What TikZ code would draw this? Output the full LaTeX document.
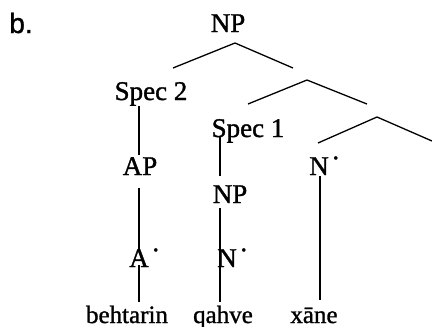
\documentclass[tikz,border=0pt]{standalone}
\usepackage{fontspec}
\setmainfont[AutoFakeBold=1.2]{Liberation Serif}
\newfontfamily\labfont[AutoFakeBold=1.2]{Liberation Sans}
\newcommand{\bardot}{\rlap{\hspace{2.5pt}\raisebox{0.3em}{·}}}
\begin{document}
\begin{tikzpicture}[x=1pt,y=-1pt,
  lab/.style={font=\fontsize{27}{30}\selectfont\bfseries, inner sep=0pt, anchor=base},
  word/.style={font=\fontsize{25}{28}\selectfont\bfseries, inner sep=0pt, anchor=base},
  br/.style={line width=1.3pt}]
\useasboundingbox (0,0) rectangle (432,327);
% labels
\node[font=\labfont\fontsize{28}{30}\selectfont\bfseries, inner sep=0pt, anchor=base] (lbl) at (21,33) {b.};
\node[lab] (np0) at (228,32) {NP};
\node[lab] (spec2) at (151,100) {Spec 2};
\node[lab] (spec1) at (248,137) {Spec 1};
\node[lab] (ap) at (140,175) {AP};
\node[lab] (nbar3) at (319,175) {N\bardot};
\node[lab] (np1) at (230,203) {NP};
\node[lab] (abar) at (139,267) {A\bardot};
\node[lab] (nbar2) at (227,267) {N\bardot};
\node[word] (w1) at (127,323) {behtarin};
\node[word] (w2) at (223,323) {qahve};
\node[word] (w3) at (314,323) {xāne};
% branch points
\coordinate (a0) at (235,43); \coordinate (l0) at (173,68); \coordinate (r0) at (293,68);
\coordinate (a1) at (307,80); \coordinate (l1) at (248,104); \coordinate (r1) at (367,104);
\coordinate (a2) at (377,117); \coordinate (l2) at (318,143); \coordinate (r2) at (432,141);
% vertical line ends
\coordinate (s2b) at (139,106); \coordinate (apt) at (139,155);
\coordinate (apb) at (139,188); \coordinate (abt) at (139,250);
\coordinate (abb) at (139,265); \coordinate (w1t) at (139,302);
\coordinate (s1b) at (220,137); \coordinate (np1t) at (220,176);
\coordinate (np1b) at (220,208); \coordinate (w2t) at (220,302);
\coordinate (n3b) at (320,176); \coordinate (w3t) at (320,300);
\draw[br] (l0) -- (a0) -- (r0);
\draw[br] (l1) -- (a1) -- (r1);
\draw[br] (l2) -- (a2) -- (r2);
\draw[br] (s2b) -- (apt);
\draw[br] (apb) -- (abt);
\draw[br] (abb) -- (w1t);
\draw[br] (s1b) -- (np1t);
\draw[br] (np1b) -- (w2t);
\draw[br] (n3b) -- (w3t);
\end{tikzpicture}
\end{document}
